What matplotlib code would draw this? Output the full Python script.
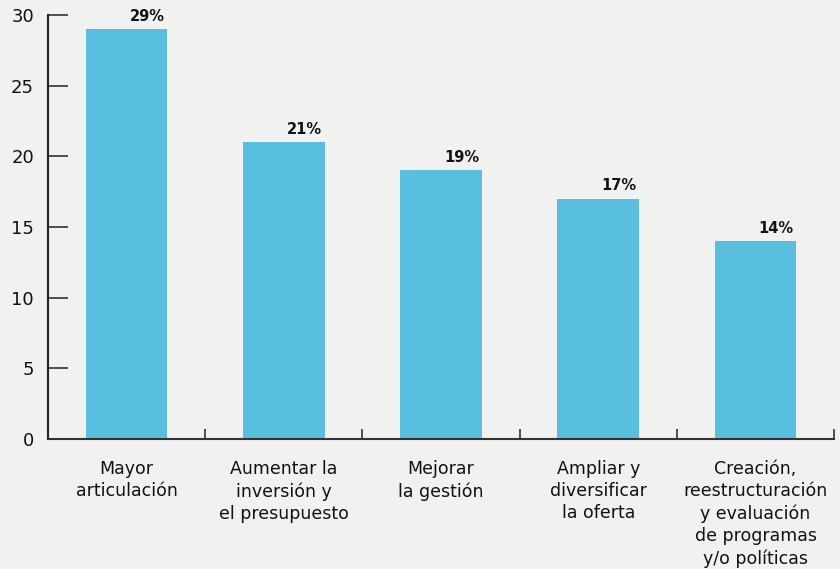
import matplotlib.pyplot as plt
from matplotlib.ticker import FixedLocator

plt.rcParams['font.family'] = ['DejaVu Sans']

# Survey answers and share of responses (%)
categories = [
    "Mayor\narticulación",
    "Aumentar la\ninversión y\nel presupuesto",
    "Mejorar\nla gestión",
    "Ampliar y\ndiversificar\nla oferta",
    "Creación,\nreestructuración\ny evaluación\nde programas\ny/o políticas",
]
values = [29, 21, 19, 17, 14]
y_ticks = [0, 5, 10, 15, 20, 25, 30]

bg = "#f1f1ef"
bar_color = "#58c0de"

fig = plt.figure(figsize=(8.4, 5.69), dpi=100, facecolor=bg)
ax = fig.add_axes([0.0571, 0.2285, 0.9359, 0.7451])
ax.set_facecolor(bg)

x = list(range(len(values)))
width = 0.52
bars = ax.bar(x, values, width=width, color=bar_color, zorder=2)

# value labels sit at the upper right corner of each bar
for xi, v in zip(x, values):
    ax.annotate(f"{v}%", xy=(xi + width / 2, v), xytext=(-2, 4),
                textcoords="offset points", ha="right", va="bottom",
                fontsize=10.5, fontweight="bold", color="#111111")

ax.set_xlim(-0.5, len(values) - 0.5)
ax.set_ylim(0, 30)

ax.set_yticks(y_ticks)
ax.tick_params(axis="y", direction="in", length=14.5, width=1.2,
               color="#333333", labelsize=13, pad=10, labelcolor="#111111")
for lbl in ax.get_yticklabels():
    lbl.set_va("center_baseline")

ax.set_xticks(x)
ax.set_xticklabels(categories, fontsize=12.5, color="#111111", linespacing=1.3,
                   va="top")
ax.tick_params(axis="x", which="major", length=0, pad=15)
ax.xaxis.set_minor_locator(FixedLocator([i + 0.5 for i in x]))
ax.tick_params(axis="x", which="minor", direction="in", length=7, width=1.2,
               color="#333333")

for side in ("top", "right"):
    ax.spines[side].set_visible(False)
ax.spines["left"].set_linewidth(1.5)
ax.spines["left"].set_color("#222222")
ax.spines["bottom"].set_linewidth(1.5)
ax.spines["bottom"].set_color("#333333")

fig.savefig("out.png", dpi=100, facecolor=bg)
